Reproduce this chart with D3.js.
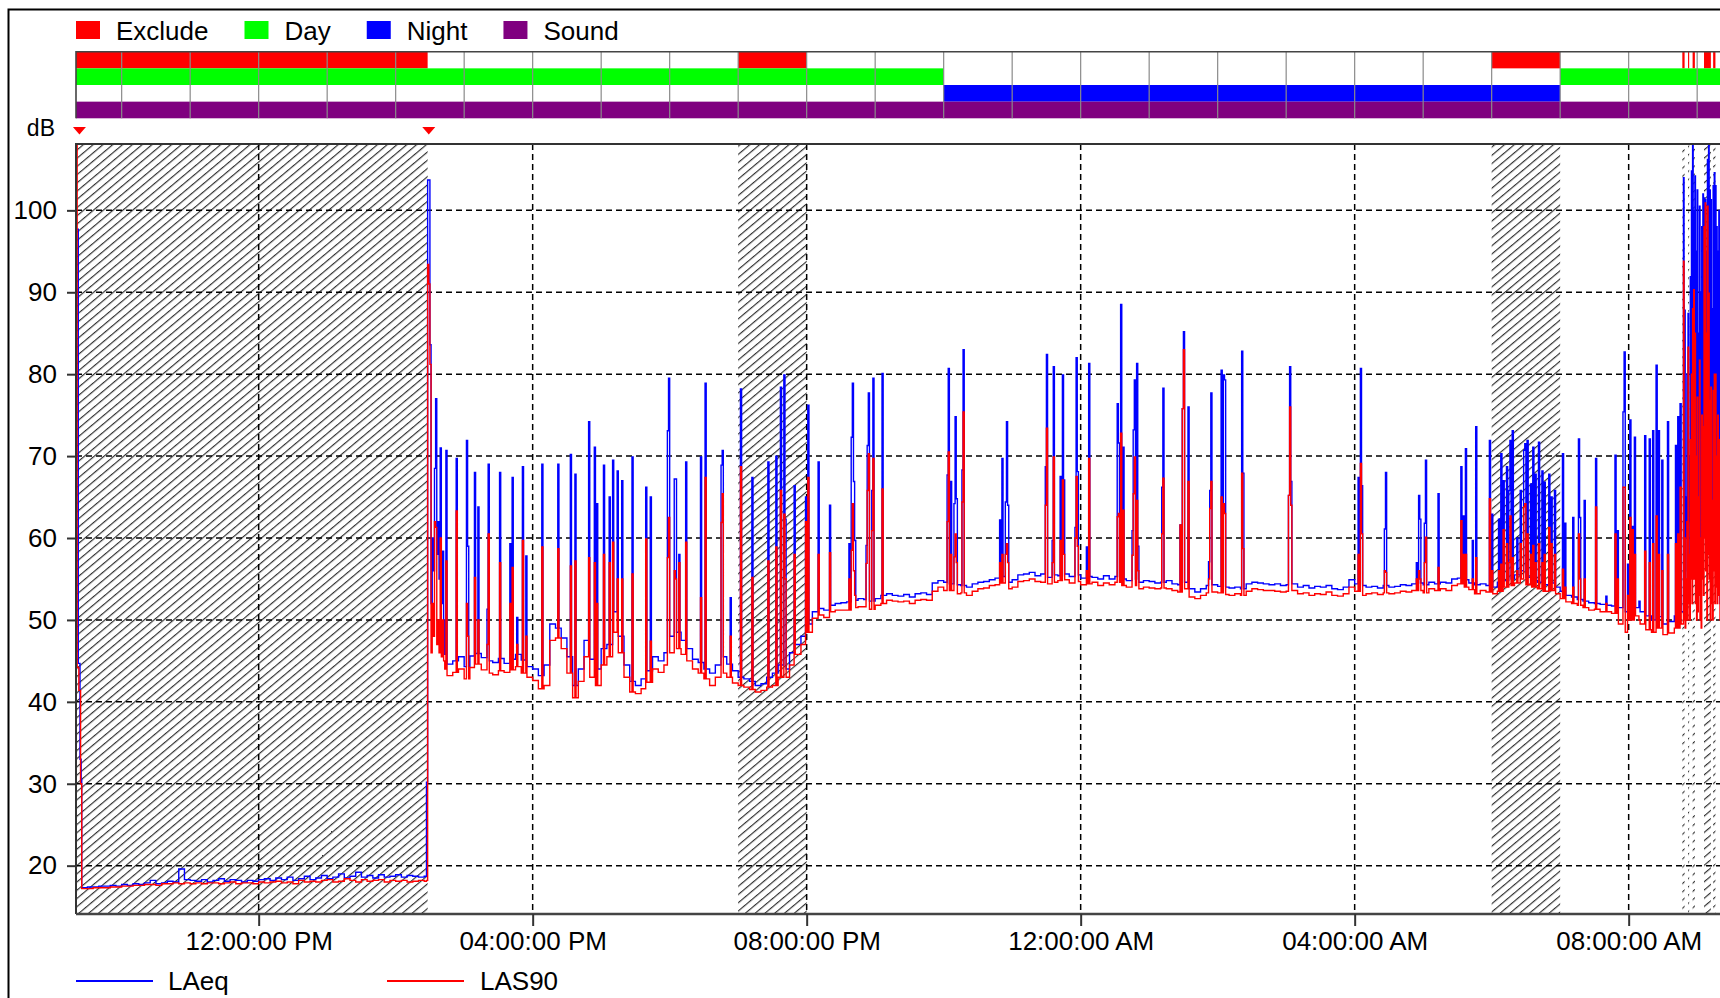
<!DOCTYPE html>
<html>
<head>
<meta charset="utf-8">
<script src="https://cdn.jsdelivr.net/npm/d3@7"></script>
<style>
  body { margin: 0; background: #fff; }
  text { font-family: "Liberation Sans", Arial, sans-serif; fill: #000; }
</style>
</head>
<body>
<div id="chart"></div>
<script>
// ---- data ----
const legendNames = ["Exclude", "Day", "Night", "Sound"]
const legendColors = ["#ff0000", "#00ff00", "#0000ff", "#800080"]

const excludePeriods = [["09:20", "14:28"], ["19:00", "20:00"], ["06:00", "07:00"],
  ["08:47", "08:49"], ["08:52", "08:53"], ["08:56", "08:58"], ["09:06", "09:12"], ["09:14", "09:16"]]
const dayPeriods = [["09:20", "22:00"], ["07:00", "09:20"]]
const nightPeriods = [["22:00", "07:00"]]
const soundPeriods = [["09:20", "09:20"]]
const markerTimes = ["09:23", "14:29"]

const yTicks = [20, 30, 40, 50, 60, 70, 80, 90, 100]

// levels every 5 minutes from 09:20 (one row = one hour)
const laeqBase = [
  17.3, 17.3, 17.4, 17.4, 17.5, 17.5, 17.6, 17.5, 17.7, 17.6, 17.8, 17.7,
  17.9, 18.2, 17.8, 17.9, 18.1, 18.0, 19.6, 18.3, 18.2, 18.1, 18.3, 18.0,
  18.2, 18.4, 18.1, 18.3, 18.2, 18.0, 18.2, 18.1, 18.3, 18.4, 18.2, 18.5,
  18.3, 18.6, 18.2, 18.4, 18.7, 18.3, 18.5, 18.8, 18.4, 18.6, 19.0, 18.5,
  18.7, 19.2, 18.6, 18.8, 18.5, 18.9, 18.6, 18.7, 18.9, 18.6, 18.8, 18.7,
  18.6, 18.7, 46.0, 45.5, 45.8, 44.6, 45.0, 45.5, 44.3, 45.6, 45.9, 45.4,
  45.0, 44.8, 45.3, 44.7, 45.2, 45.8, 45.1, 44.3, 44.0, 43.2, 44.5, 49.5,
  49.0, 47.8, 45.5, 42.0, 44.0, 47.5, 45.2, 44.0, 46.5, 47.0, 51.0, 48.0,
  44.5, 42.5, 42.0, 42.8, 43.8, 45.5, 45.0, 46.0, 48.0, 48.5, 47.5, 46.5,
  45.2, 44.8, 44.0, 43.5, 44.5, 45.5, 44.6, 43.8, 43.0, 42.8, 42.5, 42.0,
  42.2, 43.0, 43.5, 44.5, 44.0, 46.0, 47.0, 48.0, 49.5, 51.0, 51.4, 51.2,
  51.8, 52.0, 52.1, 52.2, 52.4, 52.6, 52.5, 52.3, 52.6, 53.0, 53.2, 53.0,
  52.9, 53.1, 52.8, 53.2, 53.3, 53.1, 54.5, 54.8, 54.6, 54.4, 54.3, 54.2,
  54.0, 54.4, 54.6, 54.7, 54.9, 55.1, 55.3, 54.6, 54.9, 55.5, 55.6, 55.8,
  55.4, 55.6, 55.2, 55.5, 55.4, 55.6, 55.3, 55.5, 55.1, 55.3, 55.2, 55.0,
  55.4, 55.0, 55.3, 55.0, 54.8, 55.0, 54.6, 54.8, 54.7, 54.5, 54.6, 54.8,
  54.4, 54.3, 54.6, 53.8, 53.4, 53.8, 54.2, 54.3, 54.1, 54.0, 53.9, 54.0,
  53.8, 54.4, 54.6, 54.5, 54.4, 54.3, 54.4, 54.2, 54.3, 54.4, 54.0, 54.2,
  53.9, 54.1, 54.0, 54.2, 53.8, 53.7, 54.0, 54.9, 54.4, 54.2, 54.0, 54.1,
  53.9, 54.2, 54.0, 54.1, 54.3, 54.2, 54.4, 54.5, 54.3, 54.6, 54.4, 54.6,
  54.5, 55.0, 55.1, 54.9, 54.5, 54.3, 54.4, 54.2, 54.0, 54.6, 54.8, 55.0,
  55.5, 56.0, 55.2, 54.8, 54.6, 54.3, 54.5, 54.0, 53.5, 53.0, 52.8, 52.5,
  52.3, 52.1, 52.0, 51.9, 51.8, 51.7, 51.5, 51.0, 50.8, 51.5, 51.0, 50.5,
  50.0, 50.4, 49.5, 49.8, 50.5, 51.0, 52.0, 53.0, 55.0, 52.0, 54.0, 53.0,
  52.0
]
const las90Base = [
  17.2, 17.2, 17.2, 17.3, 17.3, 17.3, 17.4, 17.4, 17.5, 17.5, 17.6, 17.6,
  17.7, 17.7, 17.6, 17.8, 17.8, 17.9, 17.8, 17.9, 17.8, 17.9, 17.8, 17.9,
  17.9, 17.8, 17.9, 18.0, 17.8, 17.9, 17.9, 17.8, 18.0, 17.9, 18.0, 18.1,
  17.9, 18.0, 17.8, 18.2, 18.0, 18.1, 18.0, 18.2, 18.3, 18.0, 18.1, 18.4,
  18.2, 18.0, 18.3, 18.1, 18.2, 18.3, 18.0, 18.2, 18.1, 18.2, 18.0, 18.1,
  18.2, 18.1, 45.0, 44.5, 44.0, 43.2, 43.6, 44.0, 42.8, 44.2, 44.6, 43.9,
  43.5, 43.3, 43.8, 43.6, 43.9, 44.3, 43.5, 43.0, 42.6, 41.6, 42.0, 47.5,
  47.8, 46.5, 43.5, 40.5, 42.5, 45.5, 43.0, 42.0, 44.5, 45.5, 48.5, 46.0,
  43.0, 41.2, 41.0, 41.6, 42.4, 44.0, 43.6, 44.5, 46.0, 46.5, 45.8, 45.0,
  44.0, 43.5, 42.8, 42.0, 43.0, 43.5, 43.0, 42.3, 42.0, 41.8, 41.5, 41.2,
  41.4, 41.8, 42.0, 43.0, 43.0, 44.5, 45.8, 47.0, 48.5, 50.2, 50.6, 50.3,
  51.0, 51.2, 51.2, 51.2, 51.5, 51.6, 51.6, 51.3, 51.8, 52.0, 52.4, 52.3,
  52.2, 52.3, 52.0, 52.4, 52.5, 52.4, 53.5, 54.0, 53.6, 53.6, 53.2, 53.3,
  53.0, 53.5, 53.8, 53.9, 54.2, 54.3, 54.5, 53.8, 54.0, 54.7, 54.8, 55.0,
  54.7, 54.6, 54.4, 54.6, 54.8, 54.9, 54.5, 54.7, 54.3, 54.4, 54.6, 54.2,
  54.5, 54.3, 54.6, 54.2, 54.0, 54.2, 53.8, 54.0, 53.9, 53.8, 53.9, 53.8,
  53.6, 53.4, 53.8, 52.8, 52.6, 53.0, 53.3, 53.4, 53.3, 53.1, 53.0, 53.2,
  53.0, 53.5, 53.8, 53.7, 53.6, 53.6, 53.5, 53.4, 53.5, 53.6, 53.2, 53.3,
  53.0, 53.2, 53.1, 53.4, 53.0, 52.9, 53.2, 54.0, 53.5, 53.0, 53.2, 53.3,
  53.1, 53.3, 53.2, 53.3, 53.5, 53.4, 53.6, 53.6, 53.3, 53.8, 53.6, 53.8,
  53.6, 54.2, 54.4, 54.0, 53.7, 53.2, 53.6, 53.4, 53.2, 53.5, 54.0, 54.2,
  54.5, 55.0, 54.3, 54.0, 53.8, 53.5, 53.6, 53.2, 52.6, 52.2, 52.0, 51.8,
  51.5, 51.2, 51.3, 51.0, 51.0, 50.8, 49.5, 48.5, 50.0, 50.5, 49.5, 48.8,
  48.5, 49.0, 48.2, 48.4, 49.0, 49.5, 50.0, 50.0, 52.0, 50.0, 51.0, 50.0,
  50.0
]

// first minutes of the recording
const laeqStart = [["09:20:30", 97.7], ["09:22:00", 44.7], ["09:23:30", 33.0], ["09:24:30", 30.5], ["09:25:00", 17.3]]
const las90Start = [["09:20:00", 0], ["09:20:05", 115], ["09:21:00", 44.2], ["09:22:30", 41.4], ["09:24:00", 30.0], ["09:25:00", 17.2]]

// one-minute events: [time, LAeq, LAS90]
const events = [
  ["14:27", 30.2, 18.2], ["14:28", 103.7, 93.4], ["14:29", 103.7, 91.0], ["14:30", 83.6, 81.2],
  ["14:31", 52.0, 46.0], ["14:32", 60.0, 52.0], ["14:33", 56.0, 48.0], ["14:34", 68.5, 62.0],
  ["14:35", 77.0, 61.3], ["14:36", 58.0, 47.0], ["14:37", 62.0, 50.0], ["14:38", 55.0, 46.0],
  ["14:39", 71.0, 60.0], ["14:40", 52.0, 45.5], ["14:41", 58.4, 50.0], ["14:42", 50.0, 45.0],
  ["14:44", 70.7, 57.2], ["14:53", 69.7, 63.3], ["15:02", 71.9, 52.0], ["15:03", 59.0, 48.0],
  ["15:09", 68.0, 55.2], ["15:12", 63.8, 50.0], ["15:20", 51.3, 47.0], ["15:21", 69.0, 60.5],
  ["15:31", 68.0, 57.0], ["15:40", 59.3, 52.0], ["15:42", 67.4, 56.4], ["15:46", 50.3, 47.0],
  ["15:51", 68.7, 59.7], ["15:54", 57.8, 48.0], ["16:08", 69.0, 58.9], ["16:22", 69.0, 58.7],
  ["16:33", 70.2, 56.6], ["16:37", 67.8, 57.2], ["16:49", 74.2, 57.6], ["16:54", 71.1, 57.0],
  ["16:56", 64.2, 52.0], ["17:02", 68.9, 58.0], ["17:07", 65.0, 57.0], ["17:10", 69.5, 59.5],
  ["17:14", 68.2, 55.0], ["17:18", 67.0, 55.0], ["17:27", 69.9, 55.6], ["17:39", 66.2, 59.9],
  ["17:43", 65.0, 47.4], ["17:58", 73.1, 57.6], ["17:59", 79.5, 62.5], ["18:04", 67.2, 56.0],
  ["18:05", 67.2, 55.0], ["18:08", 58.0, 57.0], ["18:14", 69.3, 59.5], ["18:27", 69.9, 52.7],
  ["18:31", 78.9, 67.4], ["18:45", 68.9, 61.9], ["18:46", 70.7, 65.4], ["18:53", 52.7, 48.0],
  ["19:02", 78.2, 68.7], ["19:12", 67.4, 55.2], ["19:26", 69.3, 57.2], ["19:33", 70.0, 58.9],
  ["19:37", 78.4, 65.8], ["19:40", 79.9, 62.9], ["19:41", 62.3, 55.0], ["19:49", 66.4, 58.0],
  ["19:59", 65.0, 62.0], ["20:01", 76.2, 67.4], ["20:10", 69.3, 58.0], ["20:20", 64.0, 58.2],
  ["20:37", 59.3, 55.0], ["20:39", 72.3, 58.5], ["20:40", 78.9, 64.2], ["20:41", 66.9, 56.0],
  ["20:42", 59.7, 53.0], ["20:52", 59.1, 56.9], ["20:53", 71.3, 65.8], ["20:54", 77.7, 70.3],
  ["20:57", 65.8, 60.9], ["20:58", 79.5, 69.7], ["21:06", 80.1, 66.0], ["22:03", 67.7, 62.0],
  ["22:04", 80.7, 70.5], ["22:06", 66.9, 58.0], ["22:09", 64.2, 57.7], ["22:10", 74.8, 60.5],
  ["22:11", 64.8, 57.0], ["22:16", 68.3, 64.4], ["22:17", 83.0, 75.4], ["22:49", 62.2, 57.0],
  ["22:51", 69.7, 58.0], ["22:54", 64.4, 58.0], ["22:55", 74.2, 59.3], ["22:56", 64.0, 57.0],
  ["23:29", 68.7, 64.0], ["23:30", 82.4, 73.4], ["23:35", 59.7, 57.0], ["23:36", 80.9, 69.9],
  ["23:42", 67.5, 59.7], ["23:44", 79.9, 67.1], ["23:45", 67.1, 58.0], ["23:55", 61.3, 60.0],
  ["23:56", 82.0, 67.5], ["23:57", 68.1, 59.0], ["00:05", 58.9, 56.0], ["00:07", 81.3, 69.7],
  ["00:32", 76.4, 62.6], ["00:33", 71.6, 63.0], ["00:35", 88.5, 72.8], ["00:37", 71.1, 63.4],
  ["00:45", 60.9, 57.9], ["00:46", 73.2, 65.4], ["00:47", 79.3, 69.9], ["00:49", 81.3, 64.6],
  ["00:50", 59.0, 56.0], ["01:11", 66.2, 60.5], ["01:12", 78.3, 67.3], ["01:27", 61.6, 61.6],
  ["01:29", 75.8, 75.8], ["01:30", 85.2, 83.0], ["01:34", 76.0, 66.9], ["01:52", 57.1, 55.0],
  ["01:53", 65.8, 63.6], ["01:54", 77.7, 66.9], ["02:03", 80.5, 65.0], ["02:05", 79.9, 64.2],
  ["02:06", 79.3, 63.0], ["02:21", 82.8, 67.9], ["02:22", 67.9, 58.7], ["03:02", 65.2, 65.2],
  ["03:03", 80.9, 76.0], ["03:04", 66.9, 64.0], ["04:03", 67.4, 58.0], ["04:05", 80.7, 69.1],
  ["04:06", 66.4, 60.5], ["04:26", 61.1, 56.0], ["04:27", 68.0, 55.8], ["04:54", 57.0, 55.0],
  ["04:56", 65.2, 56.0], ["04:57", 62.3, 55.0], ["05:01", 61.8, 57.0], ["05:02", 69.5, 60.1],
  ["05:13", 65.4, 56.4], ["05:33", 68.7, 62.1], ["05:35", 62.7, 58.0], ["05:37", 70.9, 58.0],
  ["05:43", 59.7, 55.0], ["05:46", 73.6, 57.6], ["05:58", 71.9, 64.8], ["06:00", 62.9, 56.0],
  ["06:06", 62.3, 56.0], ["06:08", 70.3, 56.8], ["06:10", 67.0, 61.0], ["06:13", 68.7, 59.3],
  ["06:15", 65.8, 57.0], ["06:16", 71.9, 62.7], ["06:18", 73.1, 57.6], ["06:22", 60.0, 56.0],
  ["06:25", 65.8, 59.3], ["06:28", 70.7, 63.8], ["06:29", 71.5, 64.2], ["06:31", 71.9, 60.5],
  ["06:34", 66.6, 58.0], ["06:36", 71.1, 59.1], ["06:38", 67.8, 57.0], ["06:41", 71.7, 59.3],
  ["06:44", 68.2, 57.0], ["06:46", 66.8, 58.0], ["06:50", 67.8, 61.3], ["06:52", 65.0, 59.3],
  ["06:55", 65.8, 58.0], ["07:02", 70.3, 56.2], ["07:04", 61.8, 54.0], ["07:11", 62.5, 54.0],
  ["07:16", 72.1, 60.5], ["07:17", 62.5, 55.0], ["07:21", 64.6, 55.0], ["07:31", 69.7, 63.8],
  ["07:40", 52.9, 52.0], ["07:48", 70.1, 60.5], ["07:50", 60.9, 55.0], ["07:55", 75.4, 66.2],
  ["07:56", 82.7, 66.2], ["07:59", 56.8, 53.0], ["08:01", 74.4, 62.5], ["08:03", 61.4, 61.0],
  ["08:05", 72.3, 58.0], ["08:09", 52.3, 50.0], ["08:14", 72.5, 58.4], ["08:18", 72.1, 57.0],
  ["08:21", 73.1, 59.3], ["08:24", 81.1, 62.7], ["08:26", 73.1, 58.0], ["08:29", 69.5, 56.0],
  ["08:34", 74.2, 58.0], ["08:41", 71.3, 59.3], ["08:43", 74.8, 60.5], ["08:45", 76.4, 66.2]
]

// busy last half hour, every 30 s
const morningBurst = [
  ["08:48:00", 104.0, 93.8], ["08:48:30", 55, 50], ["08:49:00", 87.8, 60], ["08:49:30", 52, 49],
  ["08:50:00", 65, 55], ["08:50:30", 60, 50], ["08:51:00", 80, 62], ["08:51:30", 56, 50],
  ["08:52:00", 87.4, 83.3], ["08:52:30", 58, 52], ["08:53:00", 70, 58], ["08:53:30", 62, 50],
  ["08:54:00", 91.9, 72], ["08:54:30", 75, 55], ["08:55:00", 104.8, 80], ["08:55:30", 66, 52],
  ["08:56:00", 110, 88], ["08:56:30", 80, 55], ["08:57:00", 100, 90.3], ["08:57:30", 70, 55],
  ["08:58:00", 104.2, 85], ["08:58:30", 65, 52], ["08:59:00", 95, 70], ["08:59:30", 62, 50],
  ["09:00:00", 102.5, 77.2], ["09:00:30", 60, 51], ["09:01:00", 85, 65], ["09:01:30", 66, 53],
  ["09:02:00", 100.5, 81.7], ["09:02:30", 60, 50], ["09:03:00", 90, 60], ["09:03:30", 58, 49],
  ["09:04:00", 98, 75], ["09:04:30", 70, 55], ["09:05:00", 102, 73.6], ["09:05:30", 68, 53],
  ["09:06:00", 101.5, 98], ["09:06:30", 72, 60], ["09:07:00", 101.3, 100.9], ["09:07:30", 70, 56],
  ["09:08:00", 95, 85], ["09:08:30", 62, 50], ["09:09:00", 106.2, 100.5], ["09:09:30", 75, 58],
  ["09:10:00", 110, 89.9], ["09:10:30", 68, 55], ["09:11:00", 102.5, 76.8], ["09:11:30", 60, 50],
  ["09:12:00", 101.3, 78.4], ["09:12:30", 66, 52], ["09:13:00", 88, 64.6], ["09:13:30", 58, 50],
  ["09:14:00", 103, 78], ["09:14:30", 70, 56], ["09:15:00", 104.6, 80], ["09:15:30", 62, 52],
  ["09:16:00", 103, 80], ["09:16:30", 66, 54], ["09:17:00", 98, 70], ["09:17:30", 60, 52],
  ["09:18:00", 95, 75], ["09:18:30", 63, 53], ["09:19:00", 100, 72], ["09:19:30", 65, 55]
]

// ---- helpers ----
const day0 = new Date(2023, 4, 1)
const MIN = 60000

function toDate(str) {
  const p = str.split(":").map(Number)
  let min = p[0] * 60 + p[1] + (p[2] || 0) / 60
  if (min < 560) min += 1440   // before 09:20 means the next morning
  return new Date(day0.getTime() + min * MIN)
}

function toRange(period) {
  const s = toDate(period[0])
  let e = toDate(period[1])
  if (e <= s) e = new Date(+e + 1440 * MIN)
  return [s, e]
}

const t0 = toDate("09:20")
const t1 = new Date(+t0 + 1440 * MIN)

// level is held until the next reading; after a one-minute event it drops
// back to the last 5-minute reading
function series(base, start, col) {
  const first = start.map(p => ({ t: toDate(p[0]), v: p[1] }))
  const startEnd = d3.max(first, p => +p.t)
  const ev = events.concat(morningBurst).map(e => ({ t: toDate(e[0]), v: e[col] }))
    .sort((a, b) => a.t - b.t)
  const evTimes = new Set(ev.map(p => +p.t))
  const pts = base.map((v, k) => ({ t: new Date(+t0 + k * 5 * MIN), v: v }))
  const baseTimes = new Set(pts.map(p => +p.t))
  const back = []
  ev.forEach((p, i) => {
    const end = +p.t + MIN
    const next = ev[i + 1]
    if (next && +next.t <= end) return
    if (baseTimes.has(end)) return
    back.push({ t: new Date(end), v: base[Math.floor((p.t - t0) / (5 * MIN))] })
  })
  return first
    .concat(pts.filter(p => +p.t > startEnd && !evTimes.has(+p.t)), ev, back)
    .sort((a, b) => a.t - b.t)
}

// ---- chart ----
const W = 1720, H = 998
const pLeft = 76, pRight = 1720, pTop = 144, pBottom = 914

const svg = d3.select("#chart").append("svg")
  .attr("width", W).attr("height", H)

const x = d3.scaleTime().domain([t0, t1]).range([pLeft, pRight])
const y = d3.scaleLinear().domain([14.1, 108.1]).range([pBottom, pTop])

// outer frame (cut off on the right and bottom)
svg.append("path")
  .attr("d", `M8.5,${H} V9.5 H${W}`)
  .attr("fill", "none").attr("stroke", "#000").attr("stroke-width", 2)

// top legend
const legend = svg.append("g")
let lx = pLeft
legendNames.forEach((name, i) => {
  legend.append("rect").attr("x", lx).attr("y", 21).attr("width", 24).attr("height", 18)
    .attr("fill", legendColors[i])
  const t = legend.append("text").attr("x", lx + 40).attr("y", 40)
    .style("font-size", "26px").text(name)
  lx += 40 + t.node().getComputedTextLength() + 36
})

// state bands
const bandTop = 51.7, rowH = 16.65
const bandRows = [excludePeriods, dayPeriods, nightPeriods, soundPeriods]
const bands = svg.append("g")
bandRows.forEach((periods, i) => {
  bands.selectAll(null).data(periods.map(toRange)).enter().append("rect")
    .attr("x", d => x(d[0]))
    .attr("width", d => Math.max(1, x(d[1]) - x(d[0])))
    .attr("y", bandTop + i * rowH)
    .attr("height", rowH)
    .attr("fill", legendColors[i])
})
bands.selectAll(null).data(d3.timeHour.every(1).range(t0, t1)).enter().append("line")
  .attr("x1", d => x(d)).attr("x2", d => x(d))
  .attr("y1", bandTop).attr("y2", bandTop + 4 * rowH)
  .attr("stroke", "#8a8a8a").attr("stroke-width", 1.2)
bands.append("path")
  .attr("d", `M${pLeft},${bandTop + 4 * rowH} V${bandTop} H${pRight}`)
  .attr("fill", "none").attr("stroke", "#444").attr("stroke-width", 1.6)

// dB label and markers
svg.append("text").attr("x", 55).attr("y", 136).attr("text-anchor", "end")
  .style("font-size", "23px").text("dB")
svg.selectAll(".marker").data(markerTimes.map(toDate)).enter().append("path")
  .attr("class", "marker")
  .attr("d", d => `M${x(d) - 6.5},127 h13 l-6.5,7.5 z`)
  .attr("fill", "#ff0000")

// hatch pattern for excluded time
const defs = svg.append("defs")
defs.append("pattern").attr("id", "hatch")
  .attr("patternUnits", "userSpaceOnUse")
  .attr("width", 6.3).attr("height", 10)
  .attr("patternTransform", "rotate(50)")
  .append("line")
  .attr("x1", 0.6).attr("x2", 0.6).attr("y1", 0).attr("y2", 10)
  .attr("stroke", "#222").attr("stroke-width", 1.1)
defs.append("clipPath").attr("id", "plotclip").append("rect")
  .attr("x", pLeft).attr("y", pTop).attr("width", pRight - pLeft).attr("height", pBottom - pTop)

const plot = svg.append("g").attr("clip-path", "url(#plotclip)")

plot.selectAll(".excl").data(excludePeriods.map(toRange)).enter().append("rect")
  .attr("class", "excl")
  .attr("x", d => x(d[0]))
  .attr("width", d => x(d[1]) - x(d[0]))
  .attr("y", pTop).attr("height", pBottom - pTop)
  .attr("fill", "url(#hatch)")

// grid
const xTicks = d3.timeHour.every(4).range(t0, t1)
plot.selectAll(".hgrid").data(yTicks).enter().append("line")
  .attr("x1", pLeft).attr("x2", pRight)
  .attr("y1", d => y(d)).attr("y2", d => y(d))
  .attr("stroke", "#000").attr("stroke-width", 1.5).attr("stroke-dasharray", "6,4")
plot.selectAll(".vgrid").data(xTicks).enter().append("line")
  .attr("x1", d => x(d)).attr("x2", d => x(d))
  .attr("y1", pTop).attr("y2", pBottom)
  .attr("stroke", "#000").attr("stroke-width", 1.5).attr("stroke-dasharray", "6,4")

// series
const line = d3.line().x(d => x(d.t)).y(d => y(d.v)).curve(d3.curveStepAfter)
plot.append("path").datum(series(laeqBase, laeqStart, 1))
  .attr("d", line).attr("fill", "none")
  .attr("stroke", "#0000ff").attr("stroke-width", 1.4)
plot.append("path").datum(series(las90Base, las90Start, 2))
  .attr("d", line).attr("fill", "none")
  .attr("stroke", "#ff0000").attr("stroke-width", 1.4)

// plot frame
svg.append("path")
  .attr("d", `M${pRight},${pTop} H${pLeft} V${pBottom}`)
  .attr("fill", "none").attr("stroke", "#333").attr("stroke-width", 2)
svg.append("line")
  .attr("x1", pLeft).attr("x2", pRight).attr("y1", pBottom).attr("y2", pBottom)
  .attr("stroke", "#444").attr("stroke-width", 2.5)

// axes
const xAxis = svg.append("g").attr("transform", `translate(0,${pBottom})`)
  .call(d3.axisBottom(x).tickValues(xTicks).tickFormat(d3.timeFormat("%I:%M:%S %p"))
    .tickSize(12).tickPadding(6).tickSizeOuter(0))
const yAxis = svg.append("g").attr("transform", `translate(${pLeft},0)`)
  .call(d3.axisLeft(y).tickValues(yTicks).tickSize(9).tickPadding(10).tickSizeOuter(0))
;[xAxis, yAxis].forEach(a => {
  a.select(".domain").remove()
  a.selectAll(".tick line").attr("stroke", "#333").attr("stroke-width", 2)
  a.selectAll(".tick text").style("font-size", "26px")
    .style("font-family", '"Liberation Sans", Arial, sans-serif').attr("fill", "#000")
})

// bottom legend
const seriesLegend = [
  { name: "LAeq", color: "#0000ff", x1: 76, x2: 153, tx: 168 },
  { name: "LAS90", color: "#ff0000", x1: 387, x2: 464, tx: 480 }
]
seriesLegend.forEach(s => {
  svg.append("line").attr("x1", s.x1).attr("x2", s.x2).attr("y1", 981).attr("y2", 981)
    .attr("stroke", s.color).attr("stroke-width", 2)
  svg.append("text").attr("x", s.tx).attr("y", 990).style("font-size", "26px").text(s.name)
})
</script>
</body>
</html>
